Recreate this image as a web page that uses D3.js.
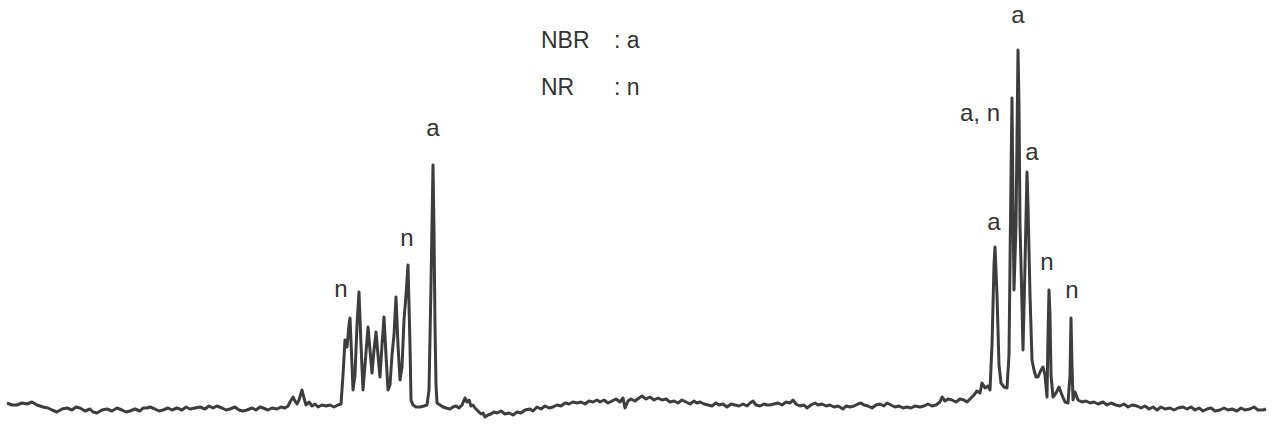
<!DOCTYPE html>
<html>
<head>
<meta charset="utf-8">
<script src="https://cdn.jsdelivr.net/npm/d3@7"></script>
<style>
  html, body { margin: 0; padding: 0; background: #fff; }
  svg { display: block; }
  text { font-family: "Liberation Sans", Arial, sans-serif; fill: #333; }
</style>
</head>
<body>
<svg id="chart" width="1272" height="427"></svg>
<script>
// Spectrum trace: position (arbitrary units) and intensity (arbitrary units)
const position = [7,12,17,22,27,32,37,43,48,52,57,62,67,72,76,80,85,90,93,97,102,107,112,117,122,126,130,135,140,143,147,150,155,159,163,168,172,177,182,186,190,195,200,205,209,213,217,222,226,230,235,239,243,247,252,256,260,263,268,272,277,281,285,288,290,293,295,297,299,302,304,306,309,312,315,318,322,326,330,334,338,341,
343,345,347,349,350,352,353,355,357,359,361,363,365,368,370,372,374,376,378,380,382,384,386,388,390,392,394,396,398,400,402,404,406,408,410,411,413,416,420,424,427,429,431,433,434,435,436,437,440,443,446,450,453,456,459,462,465,467,469,471,473,475,478,481,483,485,488,491,494,497,501,505,509,513,517,521,525,530,533,537,541,545,549,553,557,561,565,569,573,577,581,585,589,593,597,600,604,608,612,616,620,623,625,628,631,635,639,642,646,650,654,658,662,666,670,674,678,682,686,690,694,697,700,704,708,712,716,719,723,727,731,735,739,743,747,750,753,756,760,764,767,770,774,778,782,786,790,793,796,800,804,807,811,815,818,822,826,830,834,838,843,846,850,854,858,861,864,868,872,876,880,884,887,891,895,899,903,907,911,915,920,924,928,932,936,940,942,945,948,952,956,960,964,967,970,974,977,980,982,985,988,990,992,994,995,997,999,1001,1004,1007,1009,1011,1012,1013,1014,1016,1018,1019,1020,1022,1023,1025,1027,1028,1030,1032,1034,1036,1038,1041,1043,1045,1047,1048,1049,1050,1051,1053,1056,1059,1062,1065,1068,1070,1071,1072,1073,1075,1078,1082,1086,1090,1094,1098,1103,1107,1111,1116,1120,1124,1128,1132,1137,1141,1145,1149,1153,1157,1161,1165,1170,1174,1178,1183,1187,1191,1195,1199,1203,1207,1211,1215,1220,1224,1228,1232,1237,1241,1245,1250,1254,1258,1263,1266];
const intensity = [2,0,0,2,1,3,0,-2,-3,-5,-7,-4,-3,-5,-2,-3,-6,-4,-7,-8,-5,-4,-6,-3,-5,-7,-6,-4,-6,-3,-3,-2,-4,-6,-5,-3,-5,-3,-5,-2,-4,-3,-2,-4,-1,-3,-1,-3,-5,-4,-2,-5,-6,-5,-3,-5,-2,-3,-5,-3,-4,-2,-3,-1,3,8,4,1,5,15,7,0,3,-1,1,-2,0,-1,0,-2,0,1,
30,65,58,80,87,40,15,30,80,113,60,15,40,78,55,32,55,73,50,28,60,88,50,15,20,50,70,108,60,25,38,85,110,140,60,5,0,-2,-2,-1,0,15,120,240,175,80,20,2,0,-2,-3,-4,-2,-1,-3,0,7,3,5,-1,0,-3,-6,-9,-8,-12,-10,-9,-7,-8,-6,-9,-8,-10,-7,-8,-5,-4,-6,-2,-4,-1,-3,-2,0,-1,2,1,3,2,3,1,4,3,5,3,5,2,4,6,3,7,-3,4,6,4,7,9,6,8,5,7,5,6,3,4,2,5,3,1,4,2,3,1,0,-1,2,0,1,-2,1,0,-1,1,-1,2,4,0,-1,1,0,0,1,2,0,3,2,5,1,-1,0,-3,0,2,0,1,-1,0,-2,-1,-4,-1,-2,-1,1,2,0,-1,-3,0,1,-1,2,0,-2,-1,-3,-2,-3,-1,-2,-1,1,-1,0,3,8,4,6,5,3,6,5,3,6,10,14,12,22,17,19,15,60,140,158,110,40,22,18,17,50,230,307,200,115,180,355,300,180,100,55,140,233,200,110,45,35,28,28,35,38,30,8,70,115,90,30,8,12,18,10,3,2,30,87,40,5,13,5,3,4,2,3,1,3,0,2,0,-1,1,-2,0,-1,-3,-1,-4,-2,-5,-2,-4,-3,-5,-3,-2,-4,-2,-5,-3,-6,-4,-3,-6,-5,-3,-5,-4,-6,-3,-5,-4,-2,-5,-5,-4];

// Peak annotations (label, position, intensity of the peak it sits near)
const peakLabels = ["a", "n", "n", "a", "a, n", "a", "a", "n", "n"];
const peakPos    = [433, 407, 341, 1018, 980, 1032, 994, 1047, 1072];
const peakHeight = [240, 140, 87, 358, 307, 233, 158, 115, 87];

// Legend
const legendKeys = ["NBR", "NR"];
const legendVals = ["a", "n"];

const svg = d3.select("#chart");
const x = d3.scaleLinear().domain([0, 1272]).range([0, 1272]);
const y = d3.scaleLinear().domain([0, 400]).range([405, 5]);

const data = position.map((p, i) => ({p, v: intensity[i]}));
const line = d3.line().x(d => x(d.p)).y(d => y(d.v));

svg.append("path")
  .datum(data)
  .attr("d", line)
  .attr("fill", "none")
  .attr("stroke", "#3d3d3d")
  .attr("stroke-width", 3)
  .attr("stroke-linejoin", "round");

const labelOffset = [29, 19, 21, 24, -23, 12, 17, 20, 20];
svg.selectAll("text.peak")
  .data(peakLabels)
  .enter().append("text")
  .attr("class", "peak")
  .attr("x", (d, i) => x(peakPos[i]))
  .attr("y", (d, i) => y(peakHeight[i]) - labelOffset[i])
  .attr("text-anchor", "middle")
  .attr("font-size", 24)
  .text(d => d);

const lg = svg.append("g");
legendKeys.forEach((k, i) => {
  lg.append("text").attr("x", 541).attr("y", 48 + i * 47).attr("font-size", 23).text(k);
  lg.append("text").attr("x", 614).attr("y", 48 + i * 47).attr("font-size", 23).text(": " + legendVals[i]);
});
</script>
</body>
</html>
